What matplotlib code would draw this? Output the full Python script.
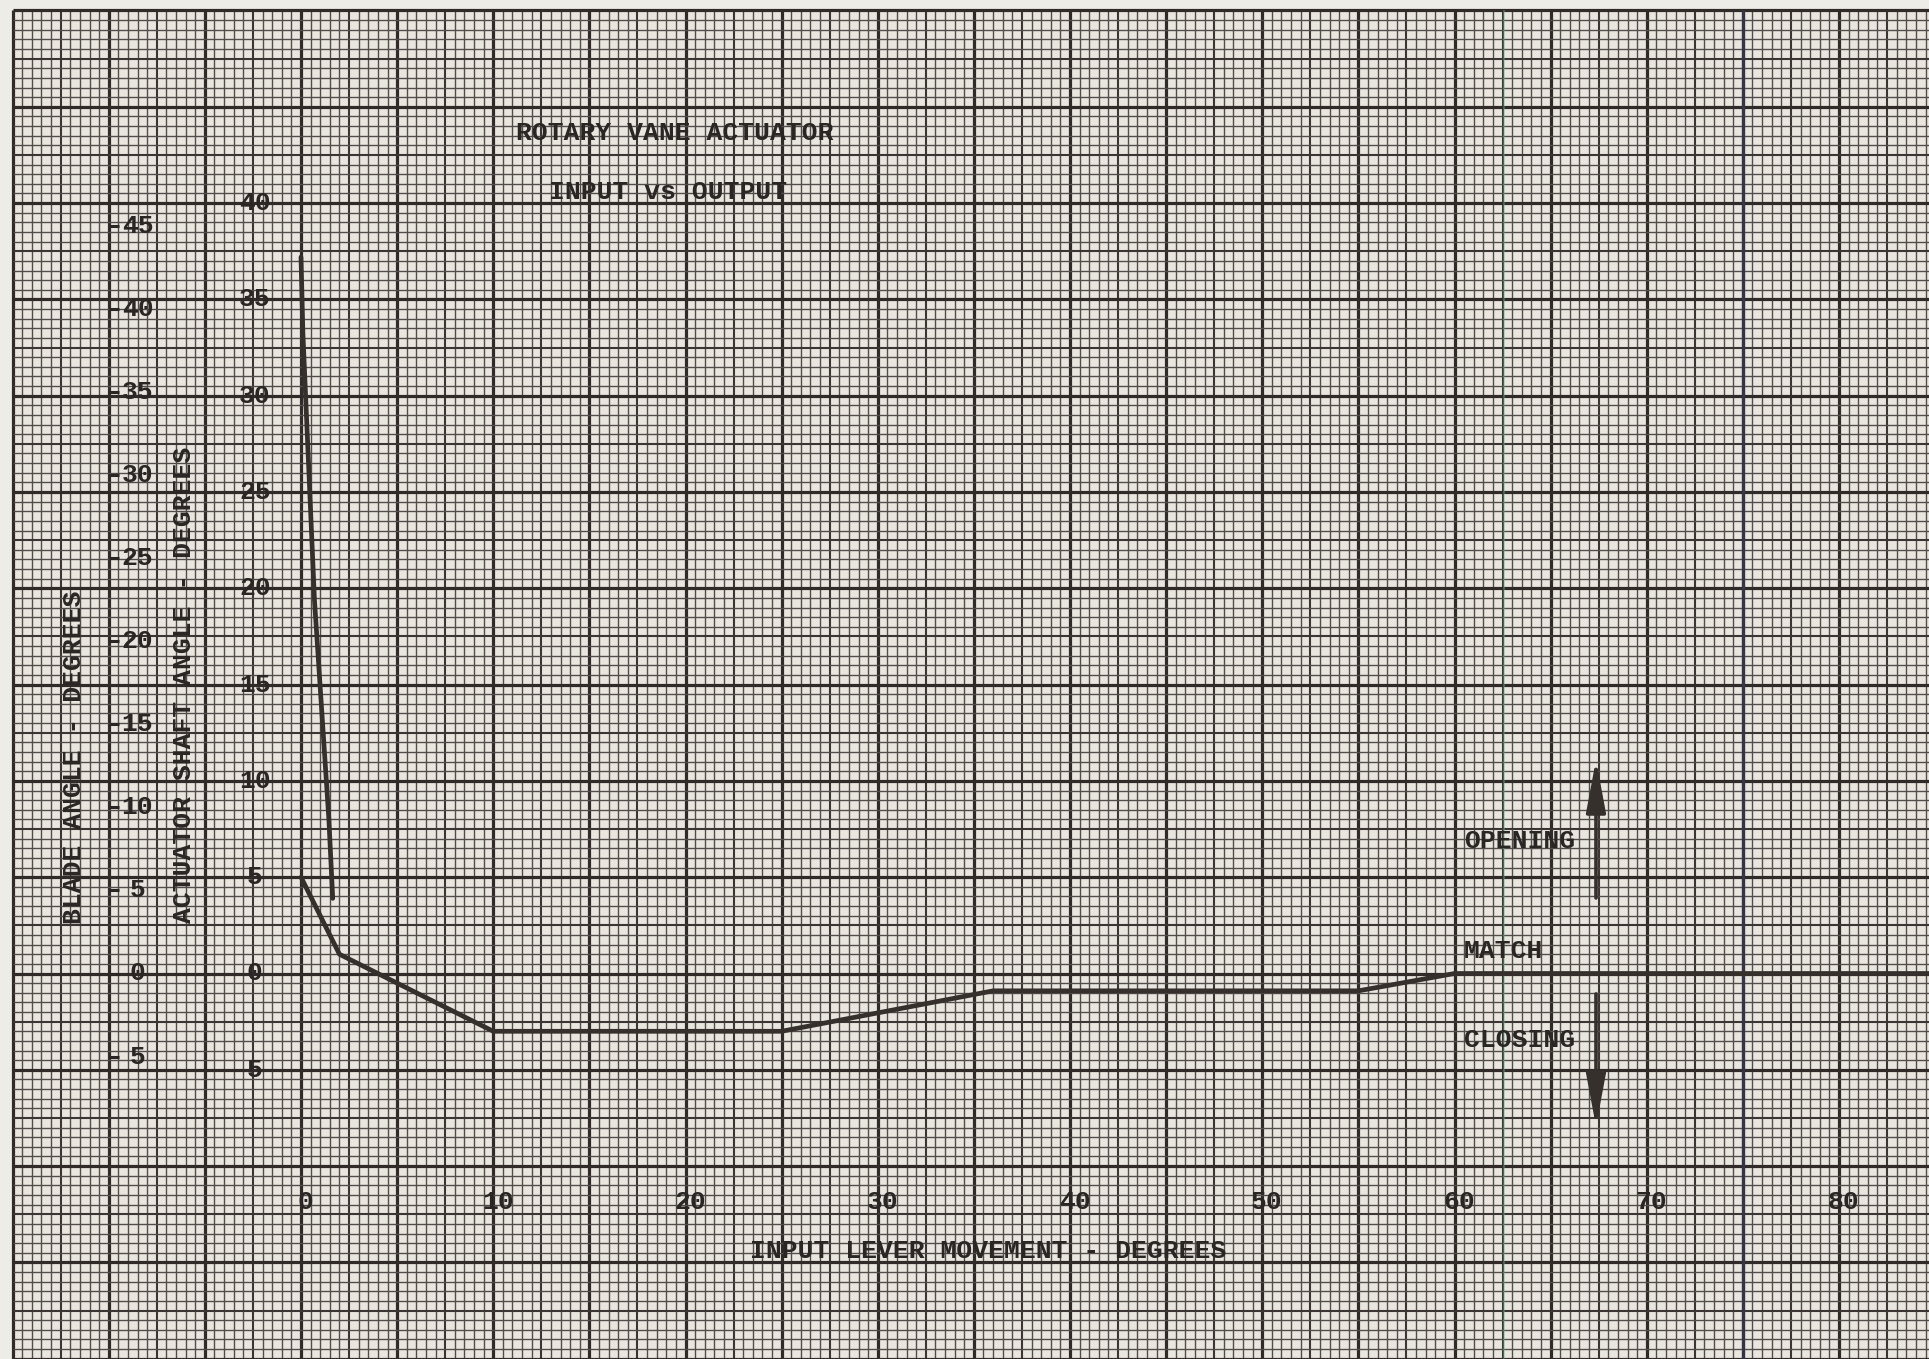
import numpy as np
import matplotlib.pyplot as plt
from matplotlib.patches import Rectangle

# curve data (input lever deg vs actuator shaft deg)
closing_x = [0, 0.1, 0.7, 1.45, 1.65]
closing_y = [37.2, 33.2, 19.4, 8.0, 3.9]

output_x = [0, 2, 10, 25, 36, 55, 60, 85]
output_y = [5, 1, -3, -3, -0.9, -0.9, 0, 0]

# axis labels
x_ticks = [0, 10, 20, 30, 40, 50, 60, 70, 80]
x_tick_labels = ['0', '10', '20', '30', '40', '50', '60', '70', '80']
shaft_ticks = [40, 35, 30, 25, 20, 15, 10, 5, 0, -5]
shaft_tick_labels = ['40', '35', '30', '25', '20', '15', '10', '5', '0', '5']
blade_ticks = [45, 40, 35, 30, 25, 20, 15, 10, 5, 0, -5]
blade_tick_labels = ['45', '40', '35', '30', '25', '20', '15', '10', '5', '0', '5']
blade_to_shaft = 0.862

paper = '#e9e6e0'
ink = '#2a2624'
grid_c = '#3b3633'
font = dict(family='Liberation Mono', weight='bold', color=ink)

fig = plt.figure(figsize=(19.29, 13.59), dpi=100)
fig.patch.set_facecolor('#eeece7')
ax = fig.add_axes([0, 0, 1, 1])
x0, x1 = -301 / 19.225, (1929 - 301) / 19.225
y0, y1 = (973.5 - 1359) / 19.26, 973.5 / 19.26
ax.set_xlim(x0, x1)
ax.set_ylim(y0, y1)
ax.axis('off')

# graph paper
ax.add_patch(Rectangle((-15, y0), x1 + 15, 50 - y0, facecolor=paper, edgecolor='none', zorder=0))

vx = np.arange(-15, 85.01, 0.5)
hy = np.arange(-20, 50.01, 0.5)
for vals, kind in [(vx, 'v'), (hy, 'h')]:
    heavy = vals[np.isclose(vals % 5, 0) | np.isclose(vals % 5, 5)]
    med = vals[np.isclose(vals % 5, 2.5)]
    minor = np.array([v for v in vals if v not in heavy and v not in med])
    for arr, lw, c in [(minor, 1.0, '#524d4a'), (med, 1.5, grid_c), (heavy, 2.3, '#302b28')]:
        if kind == 'v':
            ax.vlines(arr, y0, 50, color=c, lw=lw, zorder=1)
        else:
            ax.hlines(arr, -15, x1, color=c, lw=lw, zorder=1)

# scanner streaks
ax.vlines(75, y0, 50, color='#363448', lw=2.3, zorder=1.5)
ax.vlines(62.6, y0, 50, color='#6fb58c', lw=1.1, alpha=0.5, zorder=1.5)

# curves
ax.plot(closing_x, closing_y, color='#36302d', lw=3.4, solid_joinstyle='round', solid_capstyle='round', zorder=3)
ax.plot(output_x, output_y, color='#36302d', lw=3.4, solid_joinstyle='round', solid_capstyle='round', zorder=3)

# title
ax.text(19.45, 43.64, 'ROTARY VANE ACTUATOR', ha='center', va='center', fontsize=19, zorder=4, **font)
ax.text(19.1, 40.58, 'INPUT vs OUTPUT', ha='center', va='center', fontsize=19, zorder=4, **font)

# x ticks and label
for v, lab in zip(x_ticks, x_tick_labels):
    ax.text(v + 0.25, -11.86, lab, ha='center', va='center', fontsize=19, zorder=4, **font)
ax.text(35.73, -14.4, 'INPUT LEVER MOVEMENT - DEGREES', ha='center', va='center', fontsize=19, zorder=4, **font)

# shaft angle scale
for v, lab in zip(shaft_ticks, shaft_tick_labels):
    ax.text(-2.4, v, lab, ha='center', va='center', fontsize=19, zorder=4, **font)
ax.text(-6.06, 14.97, 'ACTUATOR SHAFT ANGLE - DEGREES', rotation=90, ha='center', va='center',
        fontsize=19, zorder=4, **font)

# blade angle scale
blade_pos = [b * blade_to_shaft for b in blade_ticks]
ax.hlines(blade_pos, -10, -9.45, color=ink, lw=2.2, zorder=4)
for p, lab in zip(blade_pos, blade_tick_labels):
    ax.text(-8.5, p, lab, ha='center', va='center', fontsize=19, zorder=4, **font)
ax.text(-11.82, 11.2, 'BLADE ANGLE - DEGREES', rotation=90, ha='center', va='center',
        fontsize=19, zorder=4, **font)

# direction notes
ax.text(60.5, 6.88, 'OPENING', ha='left', va='center', fontsize=19, zorder=4, **font)
ax.text(60.5, 1.17, 'MATCH', ha='left', va='center', fontsize=19, zorder=4, **font)
ax.text(60.5, -3.45, 'CLOSING', ha='left', va='center', fontsize=19, zorder=4, **font)
arrow = dict(arrowstyle='-|>,head_length=1.6,head_width=0.3', color='#36302d', lw=2.6,
             mutation_scale=20, shrinkA=0, shrinkB=0)
ax.annotate('', xy=(67.36, 11.1), xytext=(67.36, 3.92), arrowprops=arrow, zorder=4)
ax.annotate('', xy=(67.36, -7.95), xytext=(67.36, -1.06), arrowprops=arrow, zorder=4)

fig.savefig('out.png', dpi=100, facecolor=fig.get_facecolor())
